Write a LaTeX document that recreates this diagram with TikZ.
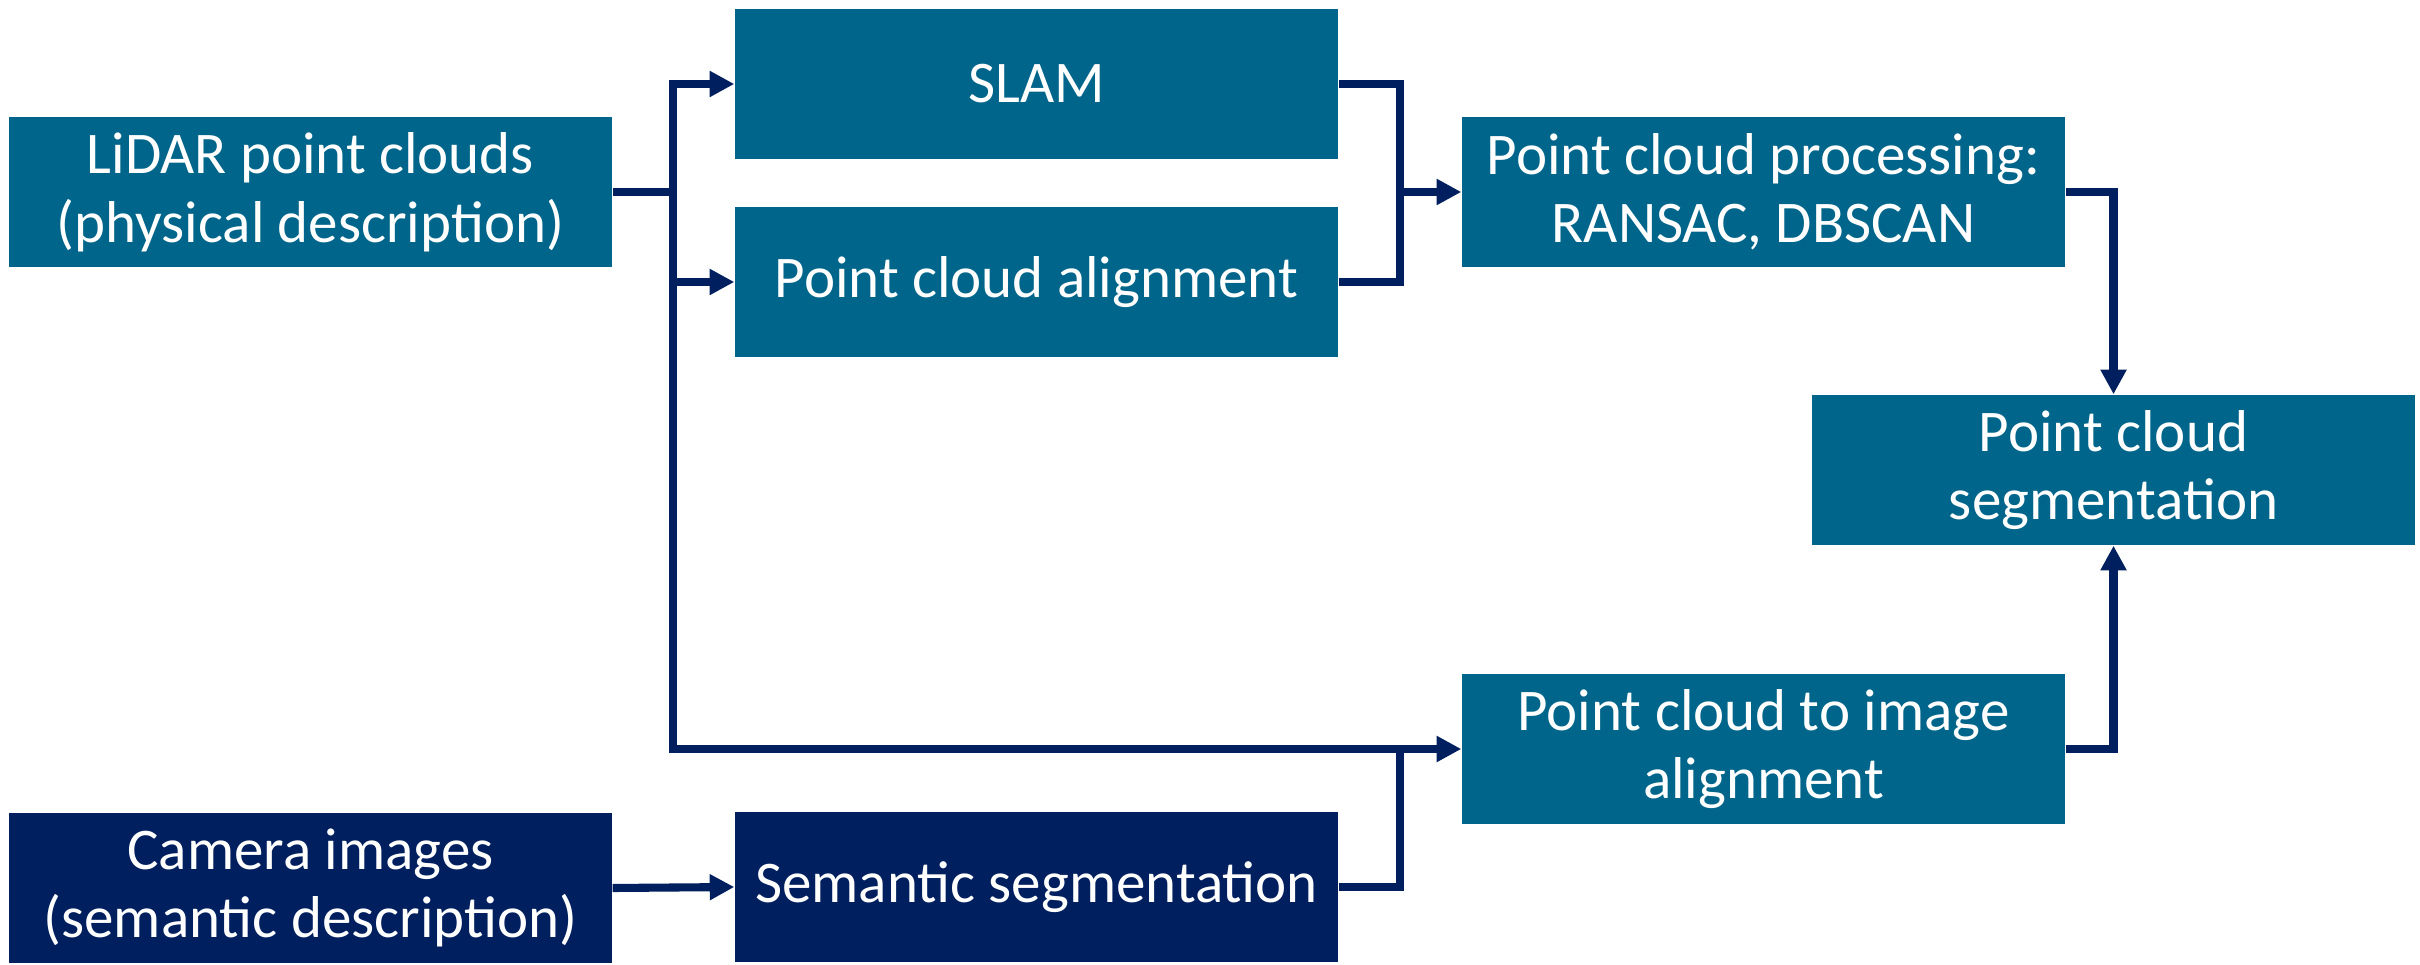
\documentclass[tikz,border=0pt]{standalone}
\usepackage{fontspec}
\setmainfont{Carlito}
\usepackage{xcolor}
\usepackage{tikz}
\usetikzlibrary{arrows.meta}

\definecolor{boxteal}{RGB}{0,101,138}
\definecolor{boxnavy}{RGB}{0,31,95}

\begin{document}
\begin{tikzpicture}[
  block/.style={fill=boxteal, text=white, minimum width=6.03cm, minimum height=1.5cm,
                align=center, inner sep=0pt, font=\fontsize{16.8}{19.5}\selectfont},
  darkblock/.style={block, fill=boxnavy},
  link/.style={draw=boxnavy, line width=2.3pt, line join=miter},
  flow/.style={link, -{Triangle[length=7pt,width=7pt]}}
]
\useasboundingbox (0,0) rectangle (24.2,-9.65);
% boxes
\node[block] (lidar) at (3.105,-1.92) {LiDAR point clouds\\(physical description)};
\node[block] (slam) at (10.365,-0.84) {SLAM};
\node[block] (align) at (10.365,-2.82) {Point cloud alignment};
\node[block] (proc) at (17.635,-1.92) {Point cloud processing:\\RANSAC, DBSCAN};
\node[block] (seg) at (21.135,-4.70) {Point cloud\\segmentation};
\node[block] (pcimg) at (17.635,-7.49) {Point cloud to image\\alignment};
\node[darkblock] (cam) at (3.105,-8.88) {Camera images\\(semantic description)};
\node[darkblock] (sem) at (10.365,-8.87) {Semantic segmentation};
% branch and join points
\coordinate (bus) at (6.73,-1.92);
\coordinate (join) at (14.0,-1.92);
\coordinate (join2) at (14.0,-7.49);
% connectors
\draw[link] (lidar.east) -- (bus);
\draw[flow] (bus) |- (slam.west);
\draw[flow] (bus) |- (align.west);
\draw[flow] (bus) |- (pcimg.west);
\draw[link] (slam.east) -| (join);
\draw[link] (align.east) -| (join);
\draw[flow] (join) -- (proc.west);
\draw[flow] (proc.east) -| (seg.north);
\draw[flow] (pcimg.east) -| (seg.south);
\draw[flow] (cam.east) -- (sem.west);
\draw[link] (sem.east) -| (join2);
\end{tikzpicture}
\end{document}
